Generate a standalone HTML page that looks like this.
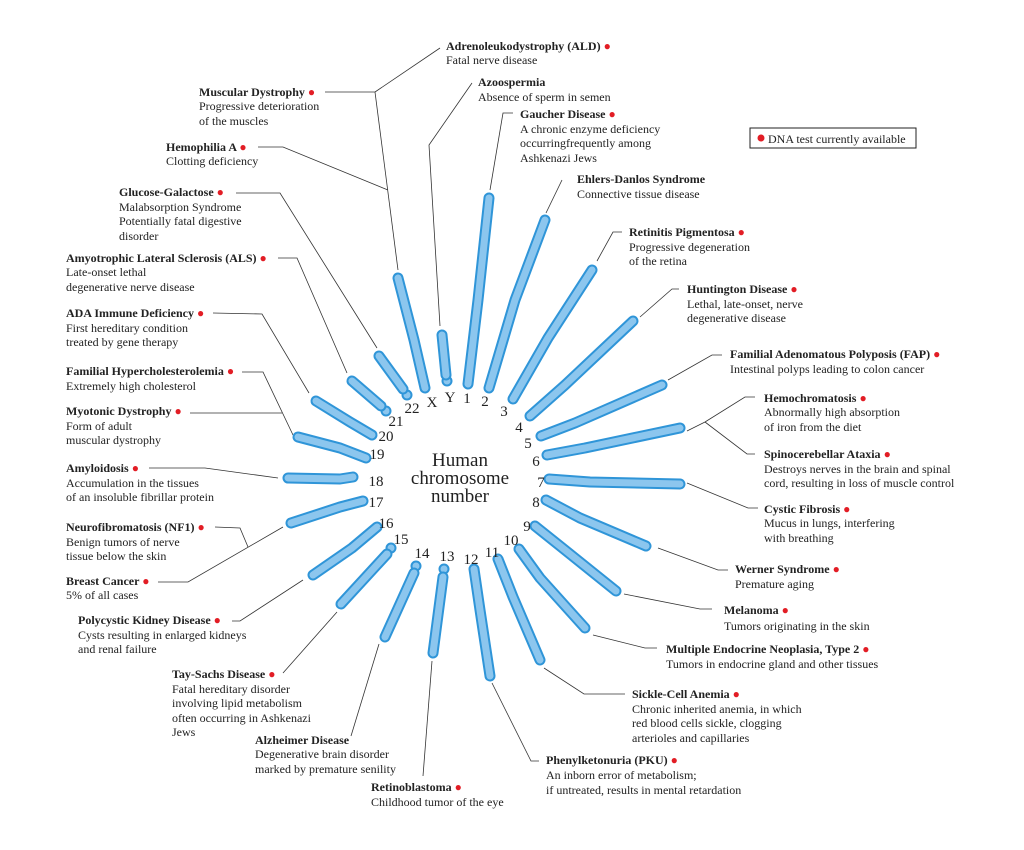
<!DOCTYPE html>
<html><head><meta charset="utf-8"><style>
html,body{margin:0;padding:0;background:#fff;}
svg{display:block;}
text{font-family:"Liberation Serif",serif;font-size:12px;fill:#222;}
.t{font-weight:bold;}
.r{fill:#e21d25;}
.ln{stroke:#333;stroke-width:0.8;fill:none;}
.co{stroke:#2f95d8;stroke-width:11;stroke-linecap:round;stroke-linejoin:round;fill:none;}
.ci{stroke:#8cc6ee;stroke-width:7;stroke-linecap:round;stroke-linejoin:round;fill:none;}
.n text{font-size:15px;fill:#222;}
.kb{fill:#8cc6ee;stroke:#2f95d8;stroke-width:2;}
</style></head><body>
<svg width="1024" height="850" viewBox="0 0 1024 850" xmlns="http://www.w3.org/2000/svg">
<g class="ln">
<polyline points="440,48 375,92"/>
<polyline points="325,92 375,92 398,270"/>
<polyline points="258,147 283,147 388,190"/>
<polyline points="472,83 429,145 440,326"/>
<polyline points="236,193 280,193 377,348"/>
<polyline points="278,258 297,258 347,373"/>
<polyline points="213,313 262,314 309,393"/>
<polyline points="242,372 263,372 293,435"/>
<polyline points="190,413 282,413"/>
<polyline points="149,468 205,468 278,478"/>
<polyline points="215,527 240,528 248,547"/>
<polyline points="158,582 188,582 283,527"/>
<polyline points="232,621 240,621 303,580"/>
<polyline points="283,673 337,612"/>
<polyline points="351,736 379,644"/>
<polyline points="423,776 432,661"/>
<polyline points="492,683 531,761 539,761"/>
<polyline points="544,668 584,694 625,694"/>
<polyline points="593,635 645,648 657,648"/>
<polyline points="624,594 700,609 712,609"/>
<polyline points="658,548 718,570 728,570"/>
<polyline points="687,483 748,508 758,508"/>
<polyline points="687,431 705,422 745,397 755,397"/>
<polyline points="705,422 747,454 755,454"/>
<polyline points="668,380 712,355 722,355"/>
<polyline points="640,317 672,289 679,289"/>
<polyline points="597,261 613,232 622,232"/>
<polyline points="546,213 562,180"/>
<polyline points="490,190 503,113 513,113"/>
</g>
<g>
<circle class="kb" cx="444" cy="569" r="4.5"/>
<circle class="kb" cx="416" cy="566" r="4.5"/>
<circle class="kb" cx="391" cy="548" r="4.5"/>
<circle class="kb" cx="386" cy="411" r="4.5"/>
<circle class="kb" cx="407" cy="395" r="4.5"/>
<circle class="kb" cx="447" cy="381" r="4.5"/>
<path class="co" d="M468,384 L478,300 L489,198"/>
<path class="co" d="M489,388 L515,300 L545,220"/>
<path class="co" d="M513,399 L548,338 L592,270"/>
<path class="co" d="M530,416 L565,385 L633,321"/>
<path class="co" d="M541,436 L575,423 L662,385"/>
<path class="co" d="M547,455 L585,448 L680,428"/>
<path class="co" d="M549,479 L590,482 L680,484"/>
<path class="co" d="M546,500 L580,518 L646,546"/>
<path class="co" d="M535,526 L560,546 L616,591"/>
<path class="co" d="M519,549 L540,578 L585,628"/>
<path class="co" d="M498,559 L513,597 L540,660"/>
<path class="co" d="M474,569 L480,610 L490,676"/>
<path class="co" d="M443,577 L433,653"/>
<path class="co" d="M414,573 L385,637"/>
<path class="co" d="M387,554 L341,604"/>
<path class="co" d="M377,527 L352,548 L313,575"/>
<path class="co" d="M363,501 L340,507 L291,523"/>
<path class="co" d="M353,477 L340,479 L288,478"/>
<path class="co" d="M366,458 L340,448 L298,437"/>
<path class="co" d="M372,435 L350,422 L316,401"/>
<path class="co" d="M381,406 L352,381"/>
<path class="co" d="M403,389 L379,356"/>
<path class="co" d="M425,388 L414,340 L398,278"/>
<path class="co" d="M446,375 L442,335"/>
<g>
<path class="ci" d="M468,384 L478,300 L489,198"/>
<path class="ci" d="M489,388 L515,300 L545,220"/>
<path class="ci" d="M513,399 L548,338 L592,270"/>
<path class="ci" d="M530,416 L565,385 L633,321"/>
<path class="ci" d="M541,436 L575,423 L662,385"/>
<path class="ci" d="M547,455 L585,448 L680,428"/>
<path class="ci" d="M549,479 L590,482 L680,484"/>
<path class="ci" d="M546,500 L580,518 L646,546"/>
<path class="ci" d="M535,526 L560,546 L616,591"/>
<path class="ci" d="M519,549 L540,578 L585,628"/>
<path class="ci" d="M498,559 L513,597 L540,660"/>
<path class="ci" d="M474,569 L480,610 L490,676"/>
<path class="ci" d="M443,577 L433,653"/>
<path class="ci" d="M414,573 L385,637"/>
<path class="ci" d="M387,554 L341,604"/>
<path class="ci" d="M377,527 L352,548 L313,575"/>
<path class="ci" d="M363,501 L340,507 L291,523"/>
<path class="ci" d="M353,477 L340,479 L288,478"/>
<path class="ci" d="M366,458 L340,448 L298,437"/>
<path class="ci" d="M372,435 L350,422 L316,401"/>
<path class="ci" d="M381,406 L352,381"/>
<path class="ci" d="M403,389 L379,356"/>
<path class="ci" d="M425,388 L414,340 L398,278"/>
<path class="ci" d="M446,375 L442,335"/>
</g>
</g>
<g class="n" text-anchor="middle">
<text x="467" y="403">1</text><text x="485" y="406">2</text><text x="504" y="416">3</text>
<text x="519" y="432">4</text><text x="528" y="448">5</text><text x="536" y="466">6</text>
<text x="541" y="487">7</text><text x="536" y="507">8</text><text x="527" y="531">9</text>
<text x="511" y="545">10</text><text x="492" y="557">11</text><text x="471" y="564">12</text>
<text x="447" y="561">13</text><text x="422" y="558">14</text><text x="401" y="544">15</text>
<text x="386" y="528">16</text><text x="376" y="507">17</text><text x="376" y="486">18</text>
<text x="377" y="459">19</text><text x="386" y="441">20</text><text x="396" y="426">21</text>
<text x="412" y="413">22</text><text x="432" y="407">X</text><text x="450" y="402">Y</text>
</g>
<g text-anchor="middle">
<text x="460" y="466" style="font-size:19px">Human</text>
<text x="460" y="484" style="font-size:19px">chromosome</text>
<text x="460" y="502" style="font-size:19px">number</text>
</g>
<rect x="750" y="128" width="166" height="20" fill="#fff" stroke="#222" stroke-width="1"/>
<circle cx="761" cy="138" r="3.5" fill="#e21d25"/>
<text x="768" y="143">DNA test currently available</text>
<g>
<text x="446" y="50" class="t">Adrenoleukodystrophy (ALD) <tspan class="r">●</tspan></text>
<text x="446" y="64">Fatal nerve disease</text>
<text x="478" y="86" class="t">Azoospermia</text>
<text x="478" y="101">Absence of sperm in semen</text>
<text x="520" y="118" class="t">Gaucher Disease <tspan class="r">●</tspan></text>
<text x="520" y="133">A chronic enzyme deficiency</text>
<text x="520" y="147">occurringfrequently among</text>
<text x="520" y="162">Ashkenazi Jews</text>
<text x="577" y="183" class="t">Ehlers-Danlos Syndrome</text>
<text x="577" y="198">Connective tissue disease</text>
<text x="629" y="236" class="t">Retinitis Pigmentosa <tspan class="r">●</tspan></text>
<text x="629" y="251">Progressive degeneration</text>
<text x="629" y="265">of the retina</text>
<text x="687" y="293" class="t">Huntington Disease <tspan class="r">●</tspan></text>
<text x="687" y="308">Lethal, late-onset, nerve</text>
<text x="687" y="322">degenerative disease</text>
<text x="730" y="358" class="t">Familial Adenomatous Polyposis (FAP) <tspan class="r">●</tspan></text>
<text x="730" y="373">Intestinal polyps leading to colon cancer</text>
<text x="764" y="402" class="t">Hemochromatosis <tspan class="r">●</tspan></text>
<text x="764" y="416">Abnormally high absorption</text>
<text x="764" y="431">of iron from the diet</text>
<text x="764" y="458" class="t">Spinocerebellar Ataxia <tspan class="r">●</tspan></text>
<text x="764" y="473">Destroys nerves in the brain and spinal</text>
<text x="764" y="487">cord, resulting in loss of muscle control</text>
<text x="764" y="513" class="t">Cystic Fibrosis <tspan class="r">●</tspan></text>
<text x="764" y="527">Mucus in lungs, interfering</text>
<text x="764" y="542">with breathing</text>
<text x="735" y="573" class="t">Werner Syndrome <tspan class="r">●</tspan></text>
<text x="735" y="588">Premature aging</text>
<text x="724" y="614" class="t">Melanoma <tspan class="r">●</tspan></text>
<text x="724" y="630">Tumors originating in the skin</text>
<text x="666" y="653" class="t">Multiple Endocrine Neoplasia, Type 2 <tspan class="r">●</tspan></text>
<text x="666" y="668">Tumors in endocrine gland and other tissues</text>
<text x="632" y="698" class="t">Sickle-Cell Anemia <tspan class="r">●</tspan></text>
<text x="632" y="713">Chronic inherited anemia, in which</text>
<text x="632" y="727">red blood cells sickle, clogging</text>
<text x="632" y="742">arterioles and capillaries</text>
<text x="546" y="764" class="t">Phenylketonuria (PKU) <tspan class="r">●</tspan></text>
<text x="546" y="779">An inborn error of metabolism;</text>
<text x="546" y="794">if untreated, results in mental retardation</text>
<text x="371" y="791" class="t">Retinoblastoma <tspan class="r">●</tspan></text>
<text x="371" y="806">Childhood tumor of the eye</text>
<text x="255" y="744" class="t">Alzheimer Disease</text>
<text x="255" y="758">Degenerative brain disorder</text>
<text x="255" y="773">marked by premature senility</text>
<text x="172" y="678" class="t">Tay-Sachs Disease <tspan class="r">●</tspan></text>
<text x="172" y="693">Fatal hereditary disorder</text>
<text x="172" y="707">involving lipid metabolism</text>
<text x="172" y="722">often occurring in Ashkenazi</text>
<text x="172" y="736">Jews</text>
<text x="78" y="624" class="t">Polycystic Kidney Disease <tspan class="r">●</tspan></text>
<text x="78" y="639">Cysts resulting in enlarged kidneys</text>
<text x="78" y="653">and renal failure</text>
<text x="66" y="585" class="t">Breast Cancer <tspan class="r">●</tspan></text>
<text x="66" y="599">5% of all cases</text>
<text x="66" y="531" class="t">Neurofibromatosis (NF1) <tspan class="r">●</tspan></text>
<text x="66" y="546">Benign tumors of nerve</text>
<text x="66" y="560">tissue below the skin</text>
<text x="66" y="472" class="t">Amyloidosis <tspan class="r">●</tspan></text>
<text x="66" y="487">Accumulation in the tissues</text>
<text x="66" y="501">of an insoluble fibrillar protein</text>
<text x="66" y="415" class="t">Myotonic Dystrophy <tspan class="r">●</tspan></text>
<text x="66" y="430">Form of adult</text>
<text x="66" y="444">muscular dystrophy</text>
<text x="66" y="375" class="t">Familial Hypercholesterolemia <tspan class="r">●</tspan></text>
<text x="66" y="390">Extremely high cholesterol</text>
<text x="66" y="317" class="t">ADA Immune Deficiency <tspan class="r">●</tspan></text>
<text x="66" y="332">First hereditary condition</text>
<text x="66" y="346">treated by gene therapy</text>
<text x="66" y="262" class="t">Amyotrophic Lateral Sclerosis (ALS) <tspan class="r">●</tspan></text>
<text x="66" y="276">Late-onset lethal</text>
<text x="66" y="291">degenerative nerve disease</text>
<text x="119" y="196" class="t">Glucose-Galactose <tspan class="r">●</tspan></text>
<text x="119" y="211">Malabsorption Syndrome</text>
<text x="119" y="225">Potentially fatal digestive</text>
<text x="119" y="240">disorder</text>
<text x="166" y="151" class="t">Hemophilia A <tspan class="r">●</tspan></text>
<text x="166" y="165">Clotting deficiency</text>
<text x="199" y="96" class="t">Muscular Dystrophy <tspan class="r">●</tspan></text>
<text x="199" y="110">Progressive deterioration</text>
<text x="199" y="125">of the muscles</text>
</g>
</svg>
</body></html>
